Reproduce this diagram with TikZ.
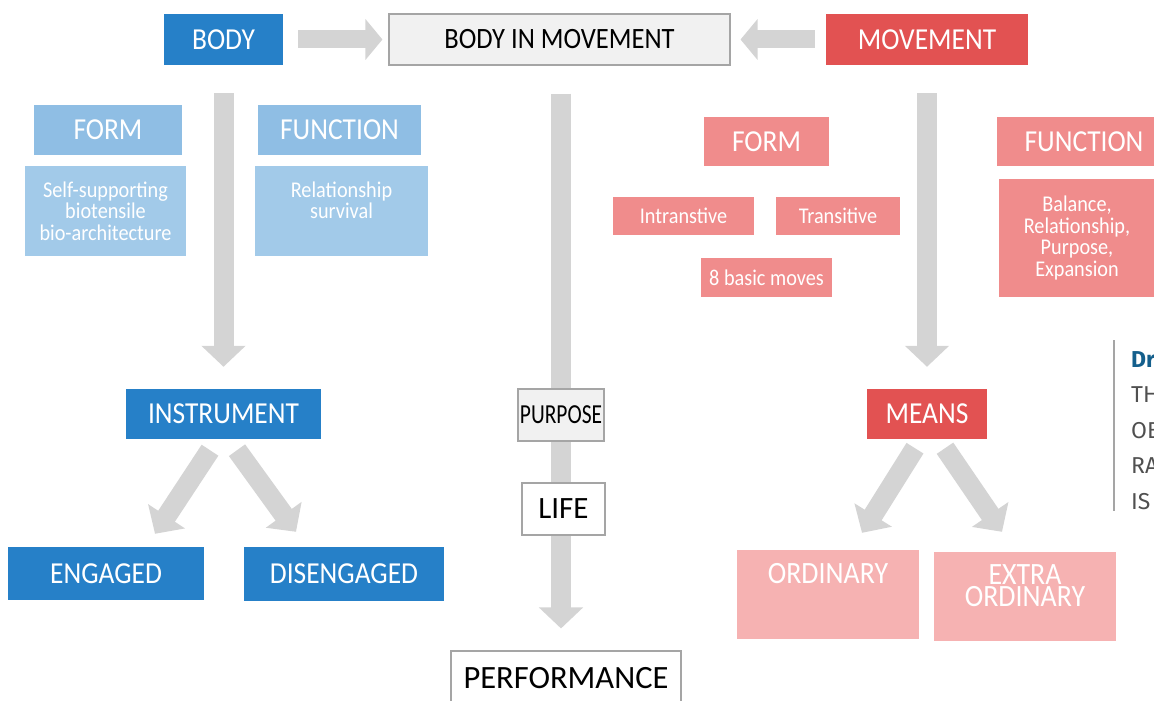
\documentclass[tikz,border=0pt]{standalone}
\usepackage{fontspec}
\setmainfont{Carlito}
\newfontfamily\condfont{Carlito}[FakeStretch=0.9]
\newfontfamily\sidefont{Fira Sans}
\usetikzlibrary{arrows.meta,calc}
\pgfdeclarelayer{bg}
\pgfsetlayers{bg,main}
\definecolor{dblue}{RGB}{38,128,200}
\definecolor{lblue}{RGB}{143,190,228}
\definecolor{lbluetwo}{RGB}{162,202,233}
\definecolor{dred}{RGB}{226,82,82}
\definecolor{pinkbox}{RGB}{240,140,140}
\definecolor{pinklight}{RGB}{246,178,178}
\definecolor{arrgray}{RGB}{212,212,212}
\definecolor{boxgray}{RGB}{241,241,241}
\definecolor{bordgray}{RGB}{165,165,165}
\definecolor{sideblue}{RGB}{20,95,140}
\definecolor{sidegray}{RGB}{80,80,80}
\tikzset{
  box/.style={inner sep=0pt, align=center, text=white},
  big/.style={font=\condfont\fontsize{30.5}{30.5}\selectfont},
  small/.style={font=\condfont\fontsize{22.5}{21.7}\selectfont},
  darkblue/.style={box, big, fill=dblue},
  lightblue/.style={box, fill=lblue},
  lightbluetwo/.style={box, small, fill=lbluetwo},
  darkred/.style={box, big, fill=dred},
  pinkstyle/.style={box, fill=pinkbox},
  pinklightstyle/.style={box, fill=pinklight, font=\condfont\fontsize{31}{21.5}\selectfont},
  grayframe/.style={inner sep=0pt, draw=bordgray, line width=1.1pt, text=black},
  blockarrow/.style={draw=arrgray, line width=20pt, line cap=butt,
     -{Triangle[width=43pt,length=21pt]}},
  harrow/.style={draw=arrgray, line width=18pt, line cap=butt,
     -{Triangle[width=40pt,length=17pt]}},
  sidetext/.style={anchor=base west, inner sep=0pt, font=\sidefont\fontsize{23}{23}\selectfont, text=sidegray}
}
\begin{document}
\begin{tikzpicture}[x=1pt,y=-1pt]
\useasboundingbox (0,0) rectangle (1154,701);
\clip (0,0) rectangle (1154,701);

% top row
\node[darkblue, minimum width=119pt, minimum height=51pt] (body) at (223.5,39.5) {BODY};
\node[grayframe, fill=boxgray, minimum width=341pt, minimum height=51pt,
      font=\condfont\fontsize{29.5}{29.5}\selectfont] (bim) at (559.5,39.5) {BODY IN MOVEMENT};
\node[darkred, minimum width=202pt, minimum height=51pt] (movement) at (927,39.5) {MOVEMENT};

% body side
\node[lightblue, big, minimum width=148pt, minimum height=50pt] (lform) at (108,130) {FORM};
\node[lightblue, big, minimum width=163pt, minimum height=50pt] (lfunc) at (339.5,130) {FUNCTION};
\node[lightbluetwo, minimum width=161pt, minimum height=90pt] (lself) at (105.5,211)
  {Self-supporting\\biotensile\\bio-architecture};
\node[lightbluetwo, minimum width=173pt, minimum height=90pt] (lrel) at (341.5,211)
  {Relationship\\survival\\~};
\node[darkblue, minimum width=195pt, minimum height=50pt] (instrument) at (223.5,414) {INSTRUMENT};
\node[darkblue, minimum width=196pt, minimum height=53pt] (engaged) at (106,573.5) {ENGAGED};
\node[darkblue, minimum width=200pt, minimum height=54pt] (diseng) at (344,574) {DISENGAGED};

% centre column
\node[grayframe, fill=boxgray, minimum width=86pt, minimum height=52pt] (purpose) at (561,415)
  {\scalebox{0.78}[1]{\fontsize{27.5}{27.5}\selectfont PURPOSE}};
\node[grayframe, fill=white, minimum width=83pt, minimum height=52pt,
      font=\fontsize{31}{31}\selectfont] (life) at (563.5,509) {LIFE};
\node[grayframe, fill=white, minimum width=230pt, minimum height=56pt,
      font=\fontsize{32.5}{32.5}\selectfont, text depth=2pt] (perf) at (566,679) {PERFORMANCE};

% movement side
\node[pinkstyle, big, minimum width=125pt, minimum height=49pt] (rform) at (766.5,141.5) {FORM};
\node[pinkstyle, small, minimum width=141pt, minimum height=38pt] (intr) at (683.5,216) {Intranstive};
\node[pinkstyle, small, minimum width=124pt, minimum height=38pt] (trans) at (838,216) {Transitive};
\node[pinkstyle, small, minimum width=131pt, minimum height=39pt] (basic) at (766.5,277.5) {8 basic moves};
\node[pinkstyle, big, minimum width=174pt, minimum height=49pt] (rfunc) at (1084,141.5) {FUNCTION};
\node[pinkstyle, small, minimum width=156pt, minimum height=118pt] (bal) at (1077,238)
  {Balance,\\Relationship,\\Purpose,\\Expansion};
\node[darkred, minimum width=120pt, minimum height=50pt] (means) at (927,414) {MEANS};
\node[pinklightstyle, minimum width=182pt, minimum height=89pt] (ordinary) at (828,594.5)
  {ORDINARY\\~\\~};
\node[pinklightstyle, minimum width=182pt, minimum height=89pt] (extra) at (1025,596.5)
  {EXTRA\\ORDINARY\\~};

% side column fragment
\coordinate (sidetop) at (1114,340);
\coordinate (sidebot) at (1114,511);
\draw[draw=bordgray, line width=1.2pt] (sidetop) -- (sidebot);
\node[sidetext, font=\sidefont\bfseries\fontsize{23}{23}\selectfont, text=sideblue] (s1) at (1131,367) {Dr};
\node[sidetext] (s2) at (1131,402) {TH};
\node[sidetext] (s3) at (1131,438) {OB};
\node[sidetext] (s4) at (1131,473) {RA};
\node[sidetext] (s5) at (1131,509) {IS};

% arrows
\begin{pgfonlayer}{bg}
\draw[harrow, shorten <=15pt, shorten >=6pt] (body.east) -- (bim.west);
\draw[harrow, shorten <=11pt, shorten >=10pt] (movement.west) -- (bim.east);
\draw[blockarrow, shorten <=28pt, shorten >=22pt] (body.south) -- (instrument.north);
\draw[blockarrow, shorten <=28pt, shorten >=22pt] (movement.south) -- (means.north);
\draw[blockarrow, shorten <=28pt, shorten >=22pt] ($(bim.south)+(1.5,0)$) -- ($(perf.north)+(-5,0)$);
\draw[blockarrow] ($(instrument.south)+(-13.5,11)$) -- ($(engaged.north)+(49,-13)$);
\draw[blockarrow] ($(instrument.south)+(13.5,11)$) -- ($(diseng.north)+(-48,-15)$);
\draw[blockarrow] ($(means.south)+(-12,9)$) -- ($(ordinary.north)+(34,-17)$);
\draw[blockarrow] ($(means.south)+(18,9)$) -- ($(extra.north)+(-23,-20)$);
\end{pgfonlayer}
\end{tikzpicture}
\end{document}
